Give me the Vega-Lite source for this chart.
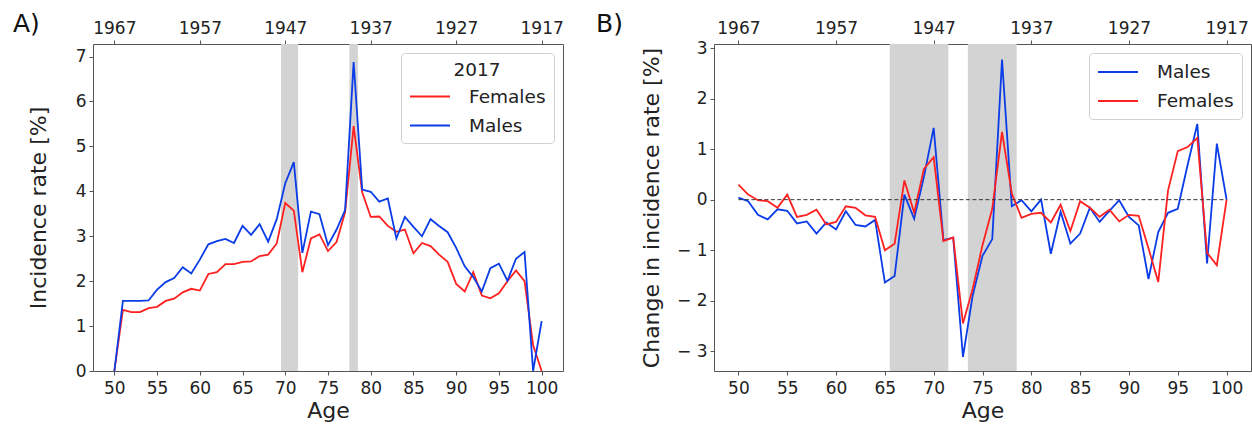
{
  "$schema": "https://vega.github.io/schema/vega-lite/v6.json",
  "padding": {"left": 12, "top": 11, "right": 2, "bottom": 0},
  "bounds": "flush",
  "spacing": 151,
  "config": {
    "font": "DejaVu Sans",
    "background": "white",
    "view": {"stroke": "#555", "strokeWidth": 1},
    "axis": {"domain": false, "grid": false, "tickColor": "#555", "tickSize": 4, "labelFontSize": 17, "labelColor": "#222", "titleFontSize": 22, "titleFontWeight": "normal", "titleColor": "#222", "labelPadding": 3, "labelFont": "DejaVu Sans", "titleFont": "DejaVu Sans", "labelOverlap": false, "labelFlush": false},
    "axisX": {"titlePadding": 4},
    "axisBottom": {"labelPadding": 5},
    "legend": {"orient": "top-right", "offset": 9, "fillColor": "white", "strokeColor": "#d0d0d0", "cornerRadius": 4, "padding": 8, "labelFontSize": 18.5, "titleFontSize": 18.5, "titleFontWeight": "normal", "titleAnchor": "middle", "labelFont": "DejaVu Sans", "titleFont": "DejaVu Sans", "labelColor": "#222", "titleColor": "#222", "symbolType": "M-2,0H2", "symbolSize": 400, "symbolStrokeWidth": 2, "symbolOffset": 10, "labelOffset": 28, "rowPadding": 8, "titlePadding": 6}
  },
  "datasets": {
    "bandsA": [{"s": 69.5, "e": 71.5}, {"s": 77.5, "e": 78.5}],
    "bandsB": [{"s": 65.5, "e": 71.5}, {"s": 73.5, "e": 78.5}],
    "a": [
      {"age": 50, "Males": 0, "Females": 0},
      {"age": 51, "Males": 1.56, "Females": 1.36},
      {"age": 52, "Males": 1.56, "Females": 1.31},
      {"age": 53, "Males": 1.56, "Females": 1.31},
      {"age": 54, "Males": 1.57, "Females": 1.40},
      {"age": 55, "Males": 1.81, "Females": 1.43},
      {"age": 56, "Males": 1.98, "Females": 1.56},
      {"age": 57, "Males": 2.07, "Females": 1.61},
      {"age": 58, "Males": 2.31, "Females": 1.75},
      {"age": 59, "Males": 2.17, "Females": 1.83},
      {"age": 60, "Males": 2.48, "Females": 1.79},
      {"age": 61, "Males": 2.82, "Females": 2.16},
      {"age": 62, "Males": 2.89, "Females": 2.20},
      {"age": 63, "Males": 2.94, "Females": 2.38},
      {"age": 64, "Males": 2.85, "Females": 2.38},
      {"age": 65, "Males": 3.23, "Females": 2.43},
      {"age": 66, "Males": 3.03, "Females": 2.44},
      {"age": 67, "Males": 3.27, "Females": 2.56},
      {"age": 68, "Males": 2.88, "Females": 2.59},
      {"age": 69, "Males": 3.38, "Females": 2.84},
      {"age": 70, "Males": 4.18, "Females": 3.74},
      {"age": 71, "Males": 4.65, "Females": 3.57},
      {"age": 72, "Males": 2.63, "Females": 2.20},
      {"age": 73, "Males": 3.55, "Females": 2.95},
      {"age": 74, "Males": 3.49, "Females": 3.04},
      {"age": 75, "Males": 2.80, "Females": 2.67},
      {"age": 76, "Males": 3.15, "Females": 2.87},
      {"age": 77, "Males": 3.58, "Females": 3.53},
      {"age": 78, "Males": 6.88, "Females": 5.45},
      {"age": 79, "Males": 4.04, "Females": 3.98},
      {"age": 80, "Males": 3.99, "Females": 3.43},
      {"age": 81, "Males": 3.77, "Females": 3.44},
      {"age": 82, "Males": 3.84, "Females": 3.23},
      {"age": 83, "Males": 2.95, "Females": 3.10},
      {"age": 84, "Males": 3.43, "Females": 3.15},
      {"age": 85, "Males": 3.21, "Females": 2.62},
      {"age": 86, "Males": 3.00, "Females": 2.85},
      {"age": 87, "Males": 3.38, "Females": 2.78},
      {"age": 88, "Males": 3.23, "Females": 2.59},
      {"age": 89, "Males": 3.09, "Females": 2.43},
      {"age": 90, "Males": 2.74, "Females": 1.94},
      {"age": 91, "Males": 2.33, "Females": 1.77},
      {"age": 92, "Males": 2.09, "Females": 2.20},
      {"age": 93, "Males": 1.77, "Females": 1.68},
      {"age": 94, "Males": 2.29, "Females": 1.62},
      {"age": 95, "Males": 2.39, "Females": 1.73},
      {"age": 96, "Males": 2.01, "Females": 2.00},
      {"age": 97, "Males": 2.50, "Females": 2.24},
      {"age": 98, "Males": 2.65, "Females": 2.00},
      {"age": 99, "Males": 0, "Females": 0.58},
      {"age": 100, "Males": 1.11, "Females": 0}
    ],
    "b": [
      {"age": 50, "Males": 0.04, "Females": 0.30},
      {"age": 51, "Males": -0.03, "Females": 0.10},
      {"age": 52, "Males": -0.30, "Females": -0.01},
      {"age": 53, "Males": -0.39, "Females": -0.03},
      {"age": 54, "Males": -0.19, "Females": -0.16},
      {"age": 55, "Males": -0.22, "Females": 0.10},
      {"age": 56, "Males": -0.47, "Females": -0.34},
      {"age": 57, "Males": -0.43, "Females": -0.30},
      {"age": 58, "Males": -0.67, "Females": -0.20},
      {"age": 59, "Males": -0.45, "Females": -0.49},
      {"age": 60, "Males": -0.59, "Females": -0.44},
      {"age": 61, "Males": -0.23, "Females": -0.13},
      {"age": 62, "Males": -0.50, "Females": -0.16},
      {"age": 63, "Males": -0.53, "Females": -0.31},
      {"age": 64, "Males": -0.40, "Females": -0.34},
      {"age": 65, "Males": -1.64, "Females": -1.00},
      {"age": 66, "Males": -1.51, "Females": -0.87},
      {"age": 67, "Males": 0.10, "Females": 0.38},
      {"age": 68, "Males": -0.38, "Females": -0.26},
      {"age": 69, "Males": 0.45, "Females": 0.61},
      {"age": 70, "Males": 1.42, "Females": 0.84},
      {"age": 71, "Males": -0.80, "Females": -0.82},
      {"age": 72, "Males": -0.75, "Females": -0.75},
      {"age": 73, "Males": -3.11, "Females": -2.45},
      {"age": 74, "Males": -1.89, "Females": -1.76},
      {"age": 75, "Males": -1.11, "Females": -0.90},
      {"age": 76, "Males": -0.78, "Females": -0.18},
      {"age": 77, "Males": 2.77, "Females": 1.34},
      {"age": 78, "Males": -0.13, "Females": 0.12},
      {"age": 79, "Males": -0.01, "Females": -0.36},
      {"age": 80, "Males": -0.23, "Females": -0.28},
      {"age": 81, "Males": 0, "Females": -0.26},
      {"age": 82, "Males": -1.07, "Females": -0.45},
      {"age": 83, "Males": -0.24, "Females": -0.10},
      {"age": 84, "Males": -0.87, "Females": -0.62},
      {"age": 85, "Males": -0.67, "Females": -0.03},
      {"age": 86, "Males": -0.16, "Females": -0.16},
      {"age": 87, "Males": -0.44, "Females": -0.34},
      {"age": 88, "Males": -0.22, "Females": -0.20},
      {"age": 89, "Males": -0.01, "Females": -0.43},
      {"age": 90, "Males": -0.34, "Females": -0.30},
      {"age": 91, "Males": -0.51, "Females": -0.32},
      {"age": 92, "Males": -1.57, "Females": -0.96},
      {"age": 93, "Males": -0.64, "Females": -1.63},
      {"age": 94, "Males": -0.26, "Females": 0.18},
      {"age": 95, "Males": -0.18, "Females": 0.96},
      {"age": 96, "Males": 0.68, "Females": 1.04},
      {"age": 97, "Males": 1.50, "Females": 1.22},
      {"age": 98, "Males": -1.26, "Females": -1.05},
      {"age": 99, "Males": 1.11, "Females": -1.30},
      {"age": 100, "Males": 0, "Females": 0}
    ]
  },
  "hconcat": [
    {
      "width": 470,
      "height": 327,
      "title": {"text": "A)", "anchor": "start", "frame": "group", "dx": -80, "offset": -18, "fontSize": 25, "fontWeight": "normal", "font": "DejaVu Sans", "color": "#111"},
      "layer": [
        {
          "data": {"name": "bandsA"},
          "mark": {"type": "rect", "color": "#d3d3d3"},
          "encoding": {
            "x": {"field": "s", "type": "quantitative", "scale": {"domain": [47.5, 102.5], "nice": false, "zero": false}, "axis": {"orient": "top", "values": [50, 60, 70, 80, 90, 100], "labelExpr": "'' + (2017 - datum.value)", "title": null, "labelPadding": 3}},
            "x2": {"field": "e"}
          }
        },
        {
          "data": {"name": "a"},
          "transform": [{"fold": ["Females", "Males"], "as": ["sex", "v"]}],
          "mark": {"type": "line", "strokeWidth": 1.8},
          "encoding": {
            "x": {"field": "age", "type": "quantitative", "scale": {"domain": [47.5, 102.5], "nice": false, "zero": false}, "axis": {"values": [50, 55, 60, 65, 70, 75, 80, 85, 90, 95, 100], "title": "Age"}},
            "y": {"field": "v", "type": "quantitative", "scale": {"domain": [0, 7.28], "nice": false}, "axis": {"values": [0, 1, 2, 3, 4, 5, 6, 7], "title": "Incidence rate [%]", "titlePadding": 25}},
            "color": {"field": "sex", "type": "nominal", "scale": {"domain": ["Females", "Males"], "range": ["#ff2020", "#0a3ce8"]}, "legend": {"title": "2017"}}
          }
        }
      ],
      "resolve": {"axis": {"x": "independent"}}
    },
    {
      "width": 537,
      "height": 327,
      "title": {"text": "B)", "anchor": "start", "frame": "group", "dx": -118, "offset": -18, "fontSize": 25, "fontWeight": "normal", "font": "DejaVu Sans", "color": "#111"},
      "layer": [
        {
          "data": {"name": "bandsB"},
          "mark": {"type": "rect", "color": "#d3d3d3"},
          "encoding": {
            "x": {"field": "s", "type": "quantitative", "scale": {"domain": [47.5, 102.5], "nice": false, "zero": false}, "axis": {"orient": "top", "values": [50, 60, 70, 80, 90, 100], "labelExpr": "'' + (2017 - datum.value)", "title": null, "labelPadding": 3}},
            "x2": {"field": "e"}
          }
        },
        {
          "data": {"name": "b"},
          "transform": [{"fold": ["Males", "Females"], "as": ["sex", "v"]}],
          "mark": {"type": "line", "strokeWidth": 1.8},
          "encoding": {
            "x": {"field": "age", "type": "quantitative", "scale": {"domain": [47.5, 102.5], "nice": false, "zero": false}, "axis": {"values": [50, 55, 60, 65, 70, 75, 80, 85, 90, 95, 100], "title": "Age"}},
            "y": {"field": "v", "type": "quantitative", "scale": {"domain": [-3.39, 3.08], "nice": false, "zero": false}, "axis": {"values": [-3, -2, -1, 0, 1, 2, 3], "labelExpr": "datum.value < 0 ? '\u2212 ' + (-datum.value) : datum.label", "title": "Change in incidence rate [%]", "titlePadding": 13}},
            "color": {"field": "sex", "type": "nominal", "scale": {"domain": ["Males", "Females"], "range": ["#0a3ce8", "#ff2020"]}, "legend": {"title": null}}
          }
        },
        {
          "data": {"values": [{}]},
          "mark": {"type": "rule", "strokeDash": [4, 2.5], "color": "#333", "strokeWidth": 1},
          "encoding": {
            "x": {"datum": 50, "scale": {"domain": [47.5, 102.5], "nice": false, "zero": false}, "axis": null},
            "x2": {"datum": 100},
            "y": {"datum": 0, "scale": {"domain": [-3.39, 3.08], "nice": false, "zero": false}, "axis": {"values": [-3, -2, -1, 0, 1, 2, 3], "labelExpr": "datum.value < 0 ? '\u2212 ' + (-datum.value) : datum.label", "title": "Change in incidence rate [%]", "titlePadding": 13}}
          }
        }
      ],
      "resolve": {"axis": {"x": "independent"}}
    }
  ],
  "resolve": {"scale": {"x": "independent", "y": "independent", "color": "independent"}, "legend": {"color": "independent"}}
}
